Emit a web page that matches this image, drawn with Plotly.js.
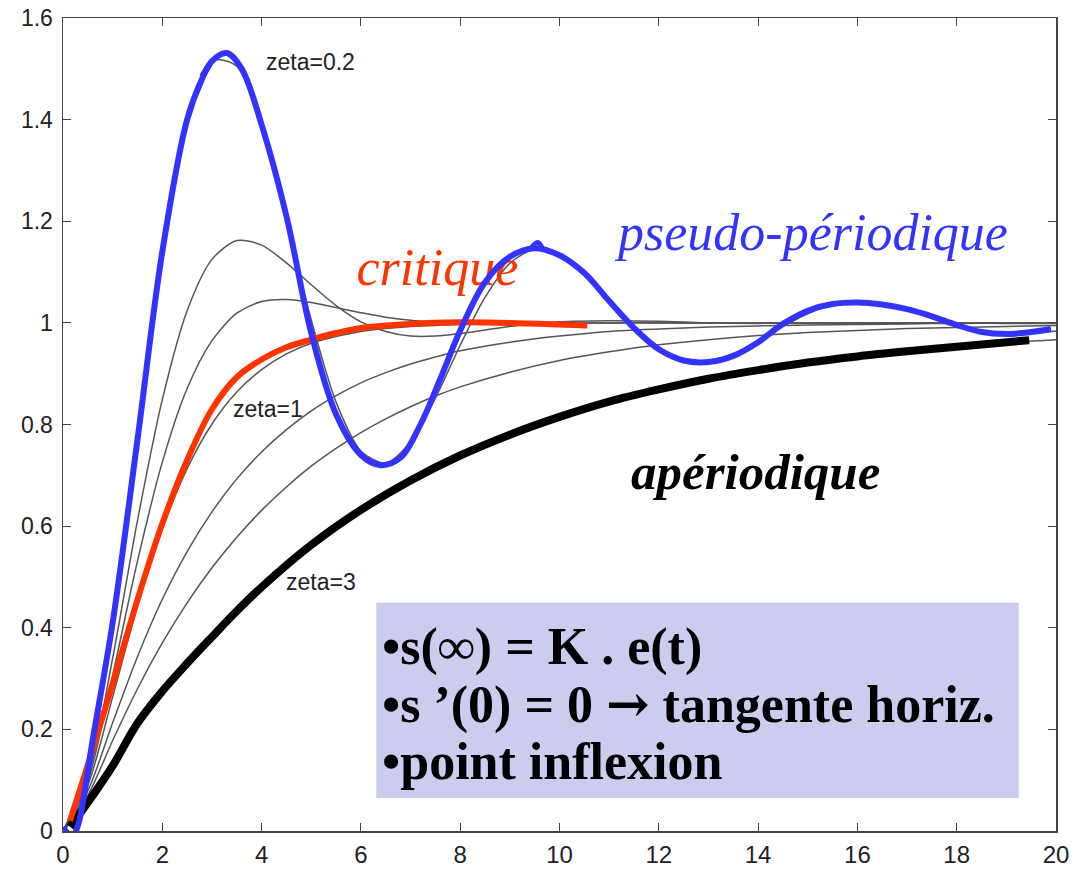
<!DOCTYPE html>
<html><head><meta charset="utf-8">
<script src="https://cdn.plot.ly/plotly-3.0.1.min.js"></script>
<style>html,body{margin:0;padding:0;background:#fff}</style>
</head><body>
<div id="chart" style="width:1079px;height:870px"></div>
<script>
// time grids
const tFine = [0,0.5,1,1.5,2,2.5,3,3.5,4,4.5,5,5.5,6,6.5,7,7.5,8,8.5,9,9.5,10,10.5,11,11.5,12,12.5,13,13.5,14,14.5,15,15.5,16,16.5,17,17.5,18,18.5,19,19.5,20];
const tGray = [0,0.5,1,1.5,2,2.5,3,3.5,4,4.5,5,5.5,6,6.5,7,7.5,8,9,10,11,12,13,14,15,16,17,18,19,20];

// gray step responses
const zeta02 = [0,0.115,0.405,0.775,1.128,1.388,1.516,1.505,1.383,1.201,1.006,0.844,0.748,0.724,0.766,0.852,0.956,1.050,1.117,1.145,1.136,1.098,1.046,0.993,0.951,0.927,0.924,0.939,0.964,0.993,1.018,1.035,1.041,1.036,1.025,1.010,0.996,0.985,0.979,0.979,0.984];
const zeta05 = [0,0.104,0.340,0.611,0.849,1.024,1.125,1.162,1.153,1.118,1.075,1.034,1.002,0.983,0.974,0.974,0.979,0.993,1.002,1.004,1.003,1.000,0.999,1.0,1.0,1.0,1.0,1.0,1.0];
const zeta07 = [0,0.098,0.306,0.531,0.726,0.871,0.965,1.019,1.042,1.046,1.040,1.030,1.020,1.011,1.005,1.001,0.999,0.998,0.999,1.0,1.0,1.0,1.0,1.0,1.0,1.0,1.0,1.0,1.0];
const zeta1  = [0,0.090,0.264,0.442,0.594,0.713,0.801,0.864,0.908,0.939,0.960,0.973,0.983,0.989,0.993,0.995,0.997,0.999,0.9995,1.0,1.0,1.0,1.0,1.0,1.0,1.0,1.0,1.0,1.0];
const zeta15 = [0,0.079,0.213,0.343,0.456,0.550,0.628,0.693,0.746,0.790,0.827,0.857,0.882,0.902,0.919,0.933,0.945,0.962,0.974,0.983,0.988,0.992,0.994,0.996,0.997,0.998,0.999,0.999,0.999];
const zeta2  = [0,0.070,0.178,0.280,0.370,0.449,0.518,0.578,0.631,0.677,0.718,0.753,0.784,0.811,0.835,0.856,0.874,0.903,0.926,0.943,0.957,0.967,0.975,0.981,0.985,0.989,0.991,0.993,0.995];
const zeta3  = [0,0.056,0.132,0.204,0.269,0.329,0.384,0.435,0.481,0.524,0.563,0.599,0.632,0.662,0.690,0.716,0.739,0.780,0.815,0.844,0.869,0.889,0.907,0.922,0.934,0.944,0.953,0.961,0.967];

// hand-drawn curves
const blueX = [0.0,0.1,0.18,0.26,0.34,0.6,1.0,1.5,2.0,2.5,2.8,3.0,3.3,3.6,4.0,4.5,5.0,5.5,6.0,6.4,6.8,7.2,7.6,8.0,8.5,9.0,9.5,10.0,10.5,11.0,11.5,12.0,12.5,13.0,13.5,14.0,14.5,15.0,15.5,16.0,16.5,17.0,17.5,18.0,18.5,19.0,19.5,19.9];
const blueY = [0.008,-0.006,-0.012,0.0,0.025,0.18,0.41,0.77,1.14,1.40,1.48,1.515,1.531,1.50,1.39,1.21,0.98,0.82,0.74,0.72,0.735,0.80,0.89,0.985,1.08,1.13,1.147,1.133,1.098,1.043,0.99,0.948,0.926,0.923,0.935,0.962,0.998,1.024,1.037,1.04,1.036,1.027,1.013,0.996,0.982,0.978,0.982,0.988];
const barbX = [2.80,2.95];
const barbY = [1.485,1.508];
const hookX = [9.42,9.56,9.66];
const hookY = [1.146,1.158,1.146];
const redX = [0.14,0.5,1.0,1.5,2.0,2.5,3.0,3.5,4.0,4.5,5.0,5.5,6.0,7.0,8.0,9.0,10.0,10.56];
const redY = [0.02,0.13,0.29,0.455,0.605,0.73,0.83,0.893,0.928,0.952,0.967,0.98,0.99,0.998,1.001,1.0,0.997,0.995];
const blackX = [0.14,0.6,1.0,1.5,2.0,2.5,3.0,3.5,4.0,5,6,7,8,9,10,11,12,13,14,15,16,17,18,19.46];
const blackY = [0.008,0.07,0.128,0.212,0.275,0.33,0.382,0.433,0.48,0.563,0.632,0.69,0.739,0.78,0.815,0.845,0.869,0.89,0.907,0.922,0.934,0.944,0.953,0.966];

// ticks
const xTicks = [0,2,4,6,8,10,12,14,16,18,20];
const yTicks = [0,0.2,0.4,0.6,0.8,1,1.2,1.4,1.6];
const yTickText = ['0','0.2','0.4','0.6','0.8','1','1.2','1.4','1.6'];

// text
const boxLines = ['•s(∞) = K . e(t)', '•s ’(0) = 0 <span style="font-family:DejaVu Serif">→</span> tangente horiz.', '•point inflexion'];

const gray = {color:'rgb(85,85,85)', width:1.5, shape:'spline', smoothing:0.8};
const traces = [];
traces.push({x:tFine, y:zeta02, mode:'lines', line:gray, hoverinfo:'skip'});
[zeta05, zeta07, zeta1, zeta15, zeta2, zeta3].forEach(v => traces.push({x:tGray, y:v, mode:'lines', line:gray, hoverinfo:'skip'}));
traces.push({x:blackX, y:blackY, mode:'lines', line:{color:'#000', width:8, shape:'spline', smoothing:1}});
traces.push({x:redX, y:redY, mode:'lines', line:{color:'#ff3300', width:6, shape:'spline', smoothing:1}});
traces.push({x:[7.54], y:[1.10], mode:'text', text:['critique'], textposition:'middle center',
  textfont:{family:'Liberation Serif', size:52, color:'#ff3300', style:'italic'}});
traces.push({x:blueX, y:blueY, mode:'lines', line:{color:'#3333ff', width:6, shape:'spline', smoothing:1}});
traces.push({x:barbX, y:barbY, mode:'lines', line:{color:'#3333ff', width:6}});
traces.push({x:hookX, y:hookY, mode:'lines', line:{color:'#3333ff', width:5, shape:'spline'}});

const axisCommon = {ticks:'inside', ticklen:8, tickwidth:1, tickcolor:'#444', showline:true, linecolor:'#444', linewidth:1.5,
  mirror:'ticks', showgrid:false, zeroline:false};

const sansLbl = {family:'Liberation Sans', size:23, color:'#222'};
const annotations = [
  {x:4.98, y:1.513, text:'zeta=0.2', showarrow:false, font:sansLbl},
  {x:4.13, y:0.830, text:'zeta=1', showarrow:false, font:sansLbl},
  {x:5.2, y:0.49, text:'zeta=3', showarrow:false, font:sansLbl},
  {x:15.06, y:1.178, text:'pseudo-périodique', showarrow:false, font:{family:'Liberation Serif', size:52, color:'#3333ff', style:'italic'}},
  {x:13.95, y:0.706, text:'apériodique', showarrow:false, font:{family:'Liberation Serif', size:51, color:'#000', style:'italic', weight:'bold'}},
];
const boxY = [0.362, 0.250, 0.136];
boxLines.forEach((t,i) => annotations.push({x:6.39, y:boxY[i], xanchor:'left', yanchor:'middle', text:'<b>'+t+'</b>', showarrow:false,
  font:{family:'Liberation Serif', size:52, color:'#000'}}));

const layout = {
  width:1079, height:870, margin:{l:63, r:23, t:18, b:39},
  paper_bgcolor:'#fff', plot_bgcolor:'#fff', showlegend:false,
  xaxis: Object.assign({range:[0,20], tickmode:'array', tickvals:xTicks, ticklabelstandoff:2,
    tickfont:{family:'Liberation Sans', size:24, color:'#222'}}, axisCommon),
  yaxis: Object.assign({range:[0,1.6], tickmode:'array', tickvals:yTicks, ticktext:yTickText, ticklabelstandoff:4,
    tickfont:{family:'Liberation Sans', size:23, color:'#222'}}, axisCommon),
  shapes:[{type:'rect', xref:'x', yref:'y', x0:6.31, x1:19.25, y0:0.065, y1:0.449, fillcolor:'rgb(204,204,238)', line:{width:0}, layer:'below'}],
  annotations: annotations
};
Plotly.newPlot('chart', traces, layout, {staticPlot:true});
</script>
</body></html>
